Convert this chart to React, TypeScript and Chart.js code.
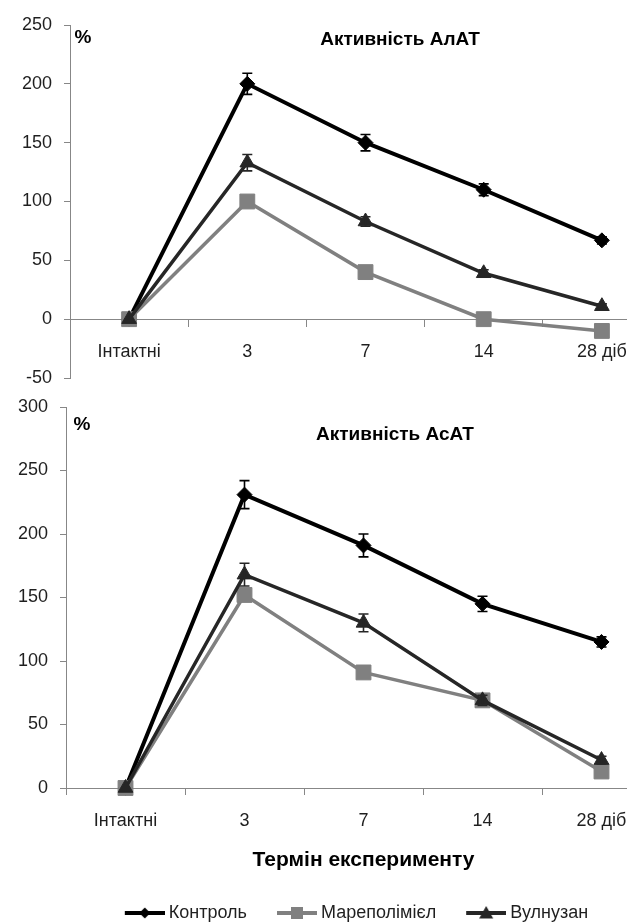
import React, { useEffect, useRef } from 'react';
import { Chart, registerables } from 'chart.js';

Chart.register(...registerables);

// ---------------- data ----------------
const categories = ['Інтактні', '3', '7', '14', '28 діб'];
const seriesNames = ['Контроль', 'Мареполімієл', 'Вулнузан'];

// Активність АлАТ, %
const altControl = [0, 200, 150, 110, 67];
const altControlErr = [0, 9, 7, 5, 3];
const altMarepolimiel = [0, 100, 40, 0, -10];
const altMarepolimielErr = [0, 3, 3, 2, 2];
const altVulnuzan = [0, 133, 83, 39, 11];
const altVulnuzanErr = [0, 7, 4, 3, 2];

// Активність АсАТ, %
const astControl = [0, 231, 191, 145, 115];
const astControlErr = [0, 11, 9, 6, 4];
const astMarepolimiel = [0, 152, 91, 69, 13];
const astMarepolimielErr = [0, 4, 3, 3, 2];
const astVulnuzan = [0, 168, 130, 69, 22];
const astVulnuzanErr = [0, 9, 7, 4, 3];

const altYRange = [-50, 250];
const astYRange = [0, 300];
const yStep = 50;

const altTitle = 'Активність АлАТ';
const astTitle = 'Активність АсАТ';
const unitLabel = '%';
const xAxisTitle = 'Термін експерименту';

// ---------------- styles ----------------
const FAMILY = "'Liberation Sans', Arial, sans-serif";
const TEXT = '#1f1f1f';
const AXIS = '#878787';
const seriesStyles = [
  { color: '#000000', width: 4, point: 'rectRot', radius: 7.5, order: 2 },
  { color: '#808080', width: 3.5, point: 'rect', radius: 10.5, order: 1 },
  { color: '#262626', width: 3.5, point: 'triangle', radius: 8.5, order: 0 },
];

// legend symbol: a short line with the marker in its middle
function makeLegendIcon(s: any) {
  const c = document.createElement('canvas');
  c.width = 44;
  c.height = 20;
  const ctx = c.getContext('2d')!;
  const x0 = 4;
  const x1 = 44;
  const cx = (x0 + x1) / 2;
  ctx.strokeStyle = s.color;
  ctx.lineWidth = 4;
  ctx.beginPath();
  ctx.moveTo(x0, 10);
  ctx.lineTo(x1, 10);
  ctx.stroke();
  ctx.fillStyle = s.color;
  ctx.beginPath();
  if (s.point === 'rectRot') {
    ctx.moveTo(cx, 4.5);
    ctx.lineTo(cx + 5.5, 10);
    ctx.lineTo(cx, 15.5);
    ctx.lineTo(cx - 5.5, 10);
  } else if (s.point === 'rect') {
    ctx.rect(cx - 6, 4, 12, 12);
  } else {
    ctx.moveTo(cx, 3);
    ctx.lineTo(cx + 7, 15.5);
    ctx.lineTo(cx - 7, 15.5);
  }
  ctx.closePath();
  ctx.fill();
  return c;
}

const errorBarPlugin = {
  id: 'errorBars',
  afterDatasetDraw(chart: any, args: any) {
    const ds: any = chart.data.datasets[args.index];
    const errs: number[] | undefined = ds.errors;
    if (!errs) return;
    const yScale = chart.scales.y;
    const ctx = chart.ctx;
    ctx.save();
    ctx.strokeStyle = ds.borderColor;
    ctx.lineWidth = 1.6;
    args.meta.data.forEach((pt: any, i: number) => {
      const e = errs[i];
      if (!e) return;
      const v = ds.data[i];
      const y1 = yScale.getPixelForValue(v + e);
      const y2 = yScale.getPixelForValue(v - e);
      ctx.beginPath();
      ctx.moveTo(pt.x, y1);
      ctx.lineTo(pt.x, y2);
      ctx.moveTo(pt.x - 5, y1);
      ctx.lineTo(pt.x + 5, y1);
      ctx.moveTo(pt.x - 5, y2);
      ctx.lineTo(pt.x + 5, y2);
      ctx.stroke();
    });
    ctx.restore();
  },
};

const overlayTextPlugin = {
  id: 'overlayText',
  afterDraw(chart: any, _args: any, opts: any) {
    const ctx = chart.ctx;
    ctx.save();
    (opts.items || []).forEach((it: any) => {
      ctx.font = it.font;
      ctx.fillStyle = it.color;
      ctx.textAlign = it.align || 'center';
      ctx.textBaseline = 'middle';
      ctx.fillText(it.text, it.x, it.y);
    });
    ctx.restore();
  },
};

// shifts the legend's left edge so it is centred like the original
const legendShiftPlugin = {
  id: 'legendShift',
  afterLayout(chart: any, _args: any, opts: any) {
    if (chart.legend && opts && opts.dx) {
      chart.legend.left += opts.dx;
    }
  },
};

function makeDatasets(values: number[][], errors: number[][]) {
  return values.map((v, i) => {
    const s = seriesStyles[i];
    return {
      label: seriesNames[i],
      data: v,
      errors: errors[i],
      borderColor: s.color,
      backgroundColor: s.color,
      borderWidth: s.width,
      pointStyle: s.point,
      pointRadius: s.radius,
      pointHoverRadius: s.radius,
      pointBackgroundColor: s.color,
      pointBorderColor: s.color,
      pointBorderWidth: 1,
      tension: 0,
      order: s.order,
      clip: false,
      fill: false,
    };
  });
}

const tickFont = { family: FAMILY, size: 18 };

function yScaleOpts(range: number[], width: number) {
  return {
    type: 'linear',
    min: range[0],
    max: range[1],
    afterFit: (s: any) => {
      s.width = width;
      s.paddingTop = 0;
      s.paddingBottom = 0;
    },
    ticks: { stepSize: yStep, font: tickFont, color: TEXT, padding: 12 },
    grid: { display: true, drawOnChartArea: false, drawTicks: true, tickLength: 6, color: AXIS, lineWidth: 1 },
    border: { display: true, color: AXIS, width: 1 },
  };
}

export default function App() {
  const topRef = useRef<HTMLCanvasElement>(null);
  const botRef = useRef<HTMLCanvasElement>(null);

  useEffect(() => {
    const icons = seriesStyles.map(makeLegendIcon);

    const top = new Chart(topRef.current as HTMLCanvasElement, {
      type: 'line',
      data: {
        labels: categories,
        datasets: makeDatasets(
          [altControl, altMarepolimiel, altVulnuzan],
          [altControlErr, altMarepolimielErr, altVulnuzanErr]
        ) as any,
      },
      options: {
        responsive: false,
        animation: false,
        devicePixelRatio: 1,
        layout: { padding: { left: 0, right: 39, top: 25, bottom: 14 } },
        plugins: {
          legend: { display: false },
          tooltip: { enabled: false },
          overlayText: {
            items: [
              { text: altTitle, x: 400, y: 40, font: `bold 19px ${FAMILY}`, color: '#000' },
              { text: unitLabel, x: 83, y: 38, font: `bold 19px ${FAMILY}`, color: '#000' },
            ],
          },
        } as any,
        scales: {
          x: {
            type: 'category',
            position: { y: 0 },
            offset: true,
            afterFit: (s: any) => {
              s.paddingLeft = 0;
              s.paddingRight = 0;
            },
            grid: { display: true, drawOnChartArea: false, drawTicks: true, tickLength: 7, offset: true, color: AXIS, lineWidth: 1 },
            border: { display: true, color: AXIS, width: 1 },
            ticks: { font: tickFont, color: TEXT, padding: 15, maxRotation: 0, autoSkip: false },
          },
          y: yScaleOpts(altYRange, 70),
        } as any,
      },
      plugins: [errorBarPlugin, overlayTextPlugin],
    });

    const bot = new Chart(botRef.current as HTMLCanvasElement, {
      type: 'line',
      data: {
        labels: categories,
        datasets: makeDatasets(
          [astControl, astMarepolimiel, astVulnuzan],
          [astControlErr, astMarepolimielErr, astVulnuzanErr]
        ) as any,
      },
      options: {
        responsive: false,
        animation: false,
        devicePixelRatio: 1,
        layout: { padding: { left: 0, right: 39, top: 15, bottom: 0 } },
        plugins: {
          legend: {
            display: true,
            position: 'bottom',
            labels: {
              usePointStyle: true,
              pointStyleWidth: 34,
              padding: 31,
              font: { family: FAMILY, size: 18 },
              color: TEXT,
              generateLabels: (chart: any) =>
                chart.data.datasets.map((ds: any, i: number) => ({
                  text: ds.label,
                  pointStyle: icons[i],
                  fillStyle: ds.borderColor,
                  strokeStyle: ds.borderColor,
                  fontColor: TEXT,
                  lineWidth: 0,
                  hidden: false,
                  datasetIndex: i,
                })),
            },
          },
          legendShift: { dx: 53 },
          tooltip: { enabled: false },
          overlayText: {
            items: [
              { text: astTitle, x: 395, y: 43, font: `bold 19px ${FAMILY}`, color: '#000' },
              { text: unitLabel, x: 82, y: 33, font: `bold 19px ${FAMILY}`, color: '#000' },
            ],
          },
        } as any,
        scales: {
          x: {
            type: 'category',
            position: 'bottom',
            offset: true,
            afterFit: (s: any) => {
              s.height = 85;
              s.paddingLeft = 0;
              s.paddingRight = 0;
            },
            grid: { display: true, drawOnChartArea: false, drawTicks: true, tickLength: 7, offset: true, color: AXIS, lineWidth: 1 },
            border: { display: true, color: AXIS, width: 1 },
            ticks: { font: tickFont, color: TEXT, padding: 15, maxRotation: 0, autoSkip: false },
            title: {
              display: true,
              text: xAxisTitle,
              color: '#000',
              font: { family: FAMILY, size: 21, weight: 'bold', lineHeight: 1.2 },
              padding: { top: 0, bottom: 0 },
            },
          },
          y: yScaleOpts(astYRange, 66),
        } as any,
      },
      plugins: [errorBarPlugin, overlayTextPlugin, legendShiftPlugin],
    });

    return () => {
      top.destroy();
      bot.destroy();
    };
  }, []);

  return (
    <div
      style={{
        position: 'fixed',
        left: 0,
        top: 0,
        width: 627,
        height: 922,
        overflow: 'hidden',
        background: '#ffffff',
      }}
    >
      <canvas ref={topRef} width={700} height={392} style={{ display: 'block', width: 700, height: 392 }} />
      <canvas ref={botRef} width={700} height={540} style={{ display: 'block', width: 700, height: 540 }} />
    </div>
  );
}
